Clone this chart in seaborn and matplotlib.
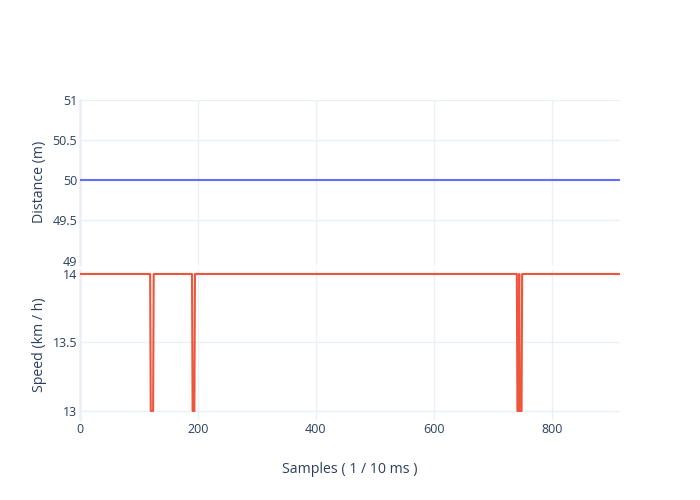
import numpy as np
import pandas as pd
import matplotlib
matplotlib.use("Agg")
import matplotlib.pyplot as plt
import seaborn as sns

# data
n_samples = 917
distance_value = 50.0
speed_high = 14.0
speed_low = 13.0
# runs where speed drops to 13 (first and last sample, inclusive)
dip_start = [120, 191, 742, 746]
dip_end = [124, 194, 744, 749]

dist_yticks = [49, 49.5, 50, 50.5, 51]
speed_yticks = [13, 13.5, 14]
x_ticks = [0, 200, 400, 600, 800]

samples = np.arange(n_samples)
distance = np.full(n_samples, distance_value)
speed = np.full(n_samples, speed_high)
for s, e in zip(dip_start, dip_end):
    speed[s:e + 1] = speed_low

df = pd.DataFrame({"sample": samples, "distance": distance, "speed": speed})

sns.set_theme(style="white")
plt.rcParams["font.family"] = ["Open Sans", "DejaVu Sans"]

text_col = "#2a3f5f"
grid_col = "#EBF0F8"

fig = plt.figure(figsize=(7, 5), dpi=100)
W, H = 700, 500
ax1 = fig.add_axes([80 / W, 1 - 265 / H, 540 / W, 165.5 / H])
ax2 = fig.add_axes([80 / W, 1 - 420 / H, 540 / W, 150 / H])

sns.lineplot(data=df, x="sample", y="distance", ax=ax1, color="#636EFA", linewidth=1.5, zorder=3)
sns.lineplot(data=df, x="sample", y="speed", ax=ax2, color="#EF553B", linewidth=1.5, zorder=3)

ax1.set_ylim(48.947, 51.0)
ax2.set_ylim(12.934, 14.029)

for ax in (ax1, ax2):
    ax.set_xlim(0, n_samples - 1)
    ax.set_xticks(x_ticks)
    for sp in ax.spines.values():
        sp.set_visible(False)
    ax.grid(True, color=grid_col, linewidth=1, zorder=0)
    ax.set_axisbelow(True)
    ax.axvline(0, color=grid_col, linewidth=2, zorder=1, clip_on=False)
    ax.tick_params(length=0, labelsize=9, colors=text_col, pad=2)

ax1.set_yticks(dist_yticks)
ax1.set_yticklabels(["49", "49.5", "50", "50.5", "51"])
ax1.set_xticklabels([])
ax1.set_xlabel("")
ax1.set_ylabel("Distance (m)", fontsize=10.2, color=text_col)
ax1.yaxis.set_label_coords(-33 / 540, 0.5)
ax1.yaxis.get_gridlines()[0].set_visible(False)

ax2.set_yticks(speed_yticks)
ax2.set_yticklabels(["13", "13.5", "14"])
ax2.set_xticklabels([str(t) for t in x_ticks])
ax2.set_ylabel("Speed (km / h)", fontsize=10.2, color=text_col)
ax2.yaxis.set_label_coords(-33 / 540, 0.5)
ax2.set_xlabel("Samples ( 1 / 10 ms )", fontsize=10.2, color=text_col)
ax2.xaxis.set_label_coords(0.5, -42 / 150)

fig.savefig("out.png", dpi=100)
